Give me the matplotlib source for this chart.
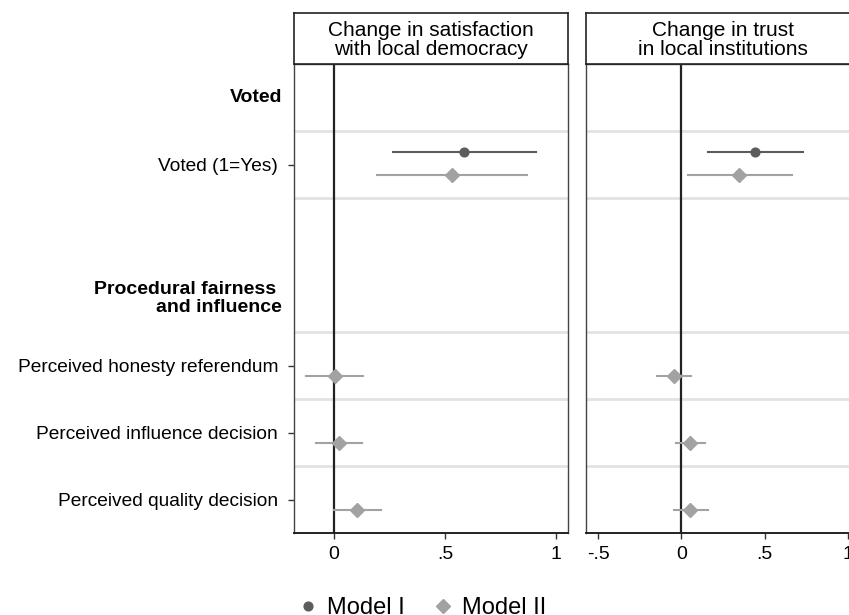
import matplotlib
matplotlib.use("Agg")
import matplotlib.pyplot as plt
from matplotlib.lines import Line2D

plt.rcParams['font.family'] = ['Liberation Sans', 'DejaVu Sans']

# rows of the coefficient plot (0 at the top)
header_labels = ["Voted", "Procedural fairness \nand influence"]
header_rows = [0, 3]
var_labels = ["Voted (1=Yes)", "Perceived honesty referendum",
              "Perceived influence decision", "Perceived quality decision"]
var_rows = [1, 4, 5, 6]

panel_titles = ["Change in satisfaction\nwith local democracy",
                "Change in trust\nin local institutions"]

# Model I: only the voted variable
m1_coef = [[0.583], [0.439]]
m1_lo = [[0.267], [0.158]]
m1_hi = [[0.910], [0.731]]

# Model II: all four variables
m2_coef = [[0.529, 0.006, 0.023, 0.103], [0.347, -0.044, 0.052, 0.052]]
m2_lo = [[0.192, -0.123, -0.078, -0.001], [0.038, -0.144, -0.033, -0.046]]
m2_hi = [[0.866, 0.133, 0.128, 0.210], [0.660, 0.056, 0.139, 0.160]]

xticks = [[0, 0.5, 1], [-0.5, 0, 0.5, 1]]
xticklabels = [["0", ".5", "1"], ["-.5", "0", ".5", "1"]]
xlims = [(-0.179, 1.054), (-0.575, 1.07)]

col1 = "#5c5c5c"
col2 = "#a2a2a2"
off1 = -0.18
off2 = 0.16

W, H = 849, 615
fig = plt.figure(figsize=(W / 100, H / 100), dpi=100)

panel_left = [294, 585.5]
panel_w = 274.4
top_px, bot_px, head_top = 64, 533, 13

for p in range(2):
    ax = fig.add_axes([panel_left[p] / W, (H - bot_px) / H, panel_w / W, (bot_px - top_px) / H])
    ax.set_ylim(6.5, -0.5)
    ax.set_xlim(*xlims[p])

    # light separators around variable rows
    for g in [0.5, 1.5, 3.5, 4.5, 5.5]:
        ax.axhline(g, color="#e2e2e2", lw=2, zorder=0)
    ax.axvline(0, color="#222222", lw=1.6, zorder=1)

    # Model II
    for i, r in enumerate(var_rows):
        ax.plot([m2_lo[p][i], m2_hi[p][i]], [r + off2, r + off2], color=col2, lw=1.5, zorder=2)
        ax.plot(m2_coef[p][i], r + off2, marker="D", ms=7.5, color=col2, ls="none", zorder=3)
    # Model I
    for i, r in enumerate(var_rows[:1]):
        ax.plot([m1_lo[p][i], m1_hi[p][i]], [r + off1, r + off1], color=col1, lw=1.5, zorder=2)
        ax.plot(m1_coef[p][i], r + off1, marker="o", ms=6.3, color=col1, ls="none", zorder=3)

    ax.set_xticks(xticks[p])
    ax.set_xticklabels(xticklabels[p], fontsize=14)
    ax.tick_params(axis="x", length=4.5, width=1, color="#333333", pad=5)

    for s in ax.spines.values():
        s.set_color("#444444")
        s.set_linewidth(1.0)
    ax.spines["bottom"].set_color("#222222")
    ax.spines["bottom"].set_linewidth(1.4)

    if p == 0:
        ax.set_yticks(var_rows)
        ax.set_yticklabels(var_labels, fontsize=13.8)
        ax.tick_params(axis="y", length=4.5, width=1, color="#333333", pad=7)
        for lab, r in zip(header_labels, header_rows):
            ax.text(-0.044, r, lab, transform=ax.get_yaxis_transform(), ha="right", va="center",
                    fontsize=14, fontweight="bold", linespacing=1.05, multialignment="right")
    else:
        ax.set_yticks([])

    # strip title box above the panel
    hx = fig.add_axes([panel_left[p] / W, (H - top_px) / H, panel_w / W, (top_px - head_top) / H])
    hx.set_xticks([])
    hx.set_yticks([])
    for s in hx.spines.values():
        s.set_color("#222222")
        s.set_linewidth(1.2)
    hx.text(0.5, 0.47, panel_titles[p], ha="center", va="center", fontsize=15, linespacing=0.95,
            transform=hx.transAxes)

handles = [Line2D([], [], marker="o", color=col1, ls="none", ms=6.3),
           Line2D([], [], marker="D", color=col2, ls="none", ms=7.5)]
fig.legend(handles, ["Model I", "Model II"], loc="center left", bbox_to_anchor=(287 / W, (H - 608) / H),
           ncol=2, frameon=False, fontsize=17, handlelength=0.8, handletextpad=0.4, columnspacing=1.22,
           borderpad=0)

fig.savefig("out.png", dpi=100)
